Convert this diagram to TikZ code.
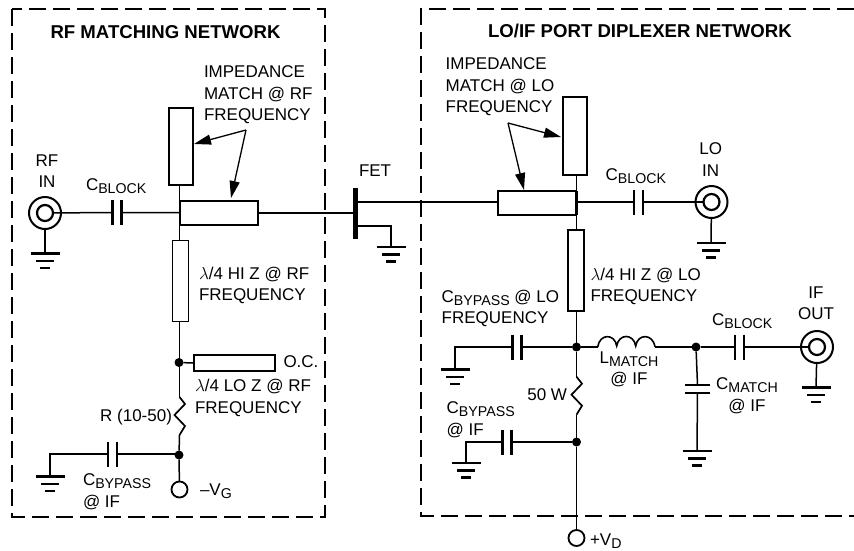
\documentclass[tikz,border=0pt]{standalone}
\usepackage{fontspec}
\setmainfont{Liberation Sans}
\usetikzlibrary{arrows.meta}
\newcommand\sbt[1]{\raisebox{-3pt}{\fontsize{14.2}{14}\selectfont #1}}
\tikzset{
  wire/.style={line width=1.5pt},
  lbl/.style={inner sep=0pt,outer sep=0pt,align=left,anchor=north west,font=\fontsize{17}{21.5}\selectfont},
  lblc/.style={lbl,align=center,anchor=north},
  lbls/.style={inner sep=0pt,outer sep=0pt,anchor=base west,font=\fontsize{17}{21.5}\selectfont},
  ttl/.style={inner sep=0pt,outer sep=0pt,anchor=base west,font=\fontsize{18.6}{22}\selectfont\bfseries},
  stub/.style={draw,line width=1.6pt,inner sep=0pt,outer sep=0pt},
  dot/.style={circle,fill=black,inner sep=0pt,outer sep=0pt,minimum size=9pt},
  port/.style={circle,draw,line width=1.8pt,inner sep=0pt,outer sep=0pt,minimum size=16pt,fill=white},
  coaxo/.style={circle,draw,line width=2pt,inner sep=0pt,outer sep=0pt,minimum size=32pt},
  coaxi/.style={circle,draw,line width=2.2pt,inner sep=0pt,outer sep=0pt,minimum size=16pt},
  bound/.style={line width=1.5pt,dash pattern=on 17pt off 7pt},
  callout/.style={line width=1.3pt,-{Triangle[length=17pt,width=10pt]}},
  hcap/.pic={
    \draw[line width=2.4pt] (-4.5,-12.5) -- (-4.5,12.5) (4.5,-12.5) -- (4.5,12.5);
    \coordinate (-w) at (-4.5,0); \coordinate (-e) at (4.5,0);
  },
  vcap/.pic={
    \draw[line width=2.4pt] (-12.5,-4) -- (12.5,-4) (-12.5,4) -- (12.5,4);
    \coordinate (-n) at (0,-4); \coordinate (-s) at (0,4);
  },
  gndsym/.pic={
    \draw[line width=2.2pt] (-14.5,0) -- (14.5,0) (-9,7.5) -- (9,7.5) (-5,14.5) -- (5,14.5);
    \coordinate (-t) at (0,0);
  },
  resist/.pic={
    \draw[line width=1.7pt,line join=miter] (0,0) -- (5.5,7) -- (-5,18) -- (5.5,29) -- (0,38);
    \coordinate (-t) at (0,0); \coordinate (-b) at (0,38);
  },
  coil/.pic={
    \draw[line width=1.6pt] (0,0) .. controls (2,-13.7) and (17,-13.7) .. (19,-1)
      .. controls (21,-13.7) and (36,-13.7) .. (38,-1)
      .. controls (40,-13.7) and (55,-13.7) .. (57.5,0);
    \coordinate (-w) at (0,0); \coordinate (-e) at (57.5,0);
  }
}
\begin{document}
\begin{tikzpicture}[x=1pt,y=-1pt]
\useasboundingbox (0,0) rectangle (854,550);
% boundaries
\draw[bound] (12,9) rectangle (325,517);
\draw[bound] (854,9) -- (421,9) -- (421,516) -- (854,516);
\node[ttl] (t1) at (50.5,38) {RF MATCHING NETWORK};
\node[ttl] (t2) at (488,37) {LO/IF PORT DIPLEXER NETWORK};

% ---- RF side
\node[coaxo] (rfo) at (45,213) {};
\node[coaxi] (rfi) at (45,213) {};
\pic (grf) at (45,253.5) {gndsym};
\pic (c1) at (117,212.5) {hcap};
\coordinate (j1) at (179.5,212.5);
\node[stub,minimum width=24pt,minimum height=77pt] (s1) at (181,146.5) {};
\node[stub,minimum width=78pt,minimum height=24pt] (s2) at (219,213) {};
\node[stub,minimum width=16pt,minimum height=81pt] (s3) at (180.5,281) {};
\node[dot] (d1) at (179,362.5) {};
\node[stub,minimum width=81pt,minimum height=16.5pt] (s4) at (234.5,363) {};
\pic (r1) at (179.5,397) {resist};
\node[dot] (d2) at (179,455) {};
\pic (c2) at (112.5,454) {hcap};
\coordinate (b1) at (50,454);
\pic (g2) at (50,476.5) {gndsym};
\node[port] (vg) at (179.5,489.5) {};

\draw[wire] (rfi) -- (c1-w) (c1-e) -- (j1);
\draw[wire] (rfo) -- (grf-t);
\draw[wire] (j1) -- (s2.west);
\draw[wire] (s1.south -| j1) -- (s3.north -| j1);
\draw[line width=2.6pt] (180,202) -- (180,224);
\draw[wire] (s3.south -| j1) -- (r1-t);
\draw[wire] (d1) -- (s4.west);
\draw[wire] (r1-b) -- (d2);
\draw[wire] (d2) -- (vg);
\draw[wire] (d2.west |- b1) -- (c2-e) (c2-w) -- (b1) -- (g2-t);

% ---- FET
\node[draw=none,fill=black,inner sep=0pt,outer sep=0pt,minimum width=5pt,minimum height=51pt] (fet) at (355.7,213.5) {};
\coordinate (fd) at (fet.east |- 0,202);
\coordinate (fs) at (fet.east |- 0,226);
\coordinate (fs2) at (391,226);
\pic (g3) at (391,247) {gndsym};
\node[stub,minimum width=78pt,minimum height=24pt] (s5) at (537,203) {};
\draw[wire] (s2.east) -- (s2.east -| fet.west);
\draw[wire] (fd) -- (s5.west |- fd);
\draw[wire] (fs) -- (fs2) -- (g3-t);

% ---- LO side
\coordinate (j2) at (576.5,202);
\node[stub,minimum width=24pt,minimum height=78pt] (s6) at (575,136) {};
\node[stub,minimum width=16pt,minimum height=81pt] (s7) at (576,270.5) {};
\node[coaxo] (loo) at (711.5,202) {};
\node[coaxi] (loi) at (711.5,202) {};
\pic (glo) at (711,243) {gndsym};
\pic (c3) at (638.5,202) {hcap};
\draw[wire] (j2) -- (c3-w) (c3-e) -- (loi);
\draw[wire] (loo) -- (glo-t);
\draw[line width=2.6pt] (576.5,191) -- (576.5,215);
\draw[wire] (s6.south -| j2) -- (s7.north -| j2);

\node[dot] (d3) at (576.5,347) {};
\node[dot] (d4) at (576.5,442) {};
\node[dot] (d5) at (696,347) {};
\node[port] (vd) at (576.5,538) {};
\pic (r2) at (576.5,376.7) {resist};
\draw[wire] (s7.south -| j2) -- (d3);
\draw[wire] (d3) -- (r2-t);
\draw[wire] (r2-b) -- (d4);
\draw[wire] (d4) -- (vd);

\pic (c4) at (517,347) {hcap};
\coordinate (b2) at (455,347);
\pic (g4) at (455,369.5) {gndsym};
\draw[wire] (d3) -- (c4-e) (c4-w) -- (b2) -- (g4-t);

\pic (c5) at (507,442) {hcap};
\coordinate (b3) at (466,442);
\pic (g5) at (466,463) {gndsym};
\draw[wire] (d4) -- (c5-e) (c5-w) -- (b3) -- (g5-t);

\pic (l1) at (597.7,347) {coil};
\draw[wire] (d3) -- (l1-w) (l1-e) -- (d5);

\pic (c6) at (739.5,347) {hcap};
\node[coaxo] (ifo) at (817,347) {};
\node[coaxi] (ifi) at (817,347) {};
\pic (g6) at (816,387.5) {gndsym};
\draw[wire] (d5) -- (c6-w) (c6-e) -- (ifi);
\draw[wire] (ifo) -- (g6-t);

\pic (c7) at (697.5,389) {vcap};
\pic (g7) at (697,451) {gndsym};
\draw[wire] (d5) -- (c7-n) (c7-s) -- (g7-t);

% ---- callouts
\coordinate (a1) at (246,130);
\coordinate (a1x) at (194,144);
\coordinate (a1y) at (231,198);
\draw[callout] (a1) -- (a1x);
\draw[callout] (a1) -- (a1y);
\coordinate (a2) at (508,123);
\coordinate (a2x) at (561,137);
\coordinate (a2y) at (524,190);
\draw[callout] (a2) -- (a2x);
\draw[callout] (a2) -- (a2y);

% ---- labels
\node[lbl] (n1) at (204,65.7) {IMPEDANCE\\MATCH @ RF\\FREQUENCY};
\node[lbl] (n2) at (445.7,57.7) {IMPEDANCE\\MATCH @ LO\\FREQUENCY};
\node[lblc] (n3) at (47,154.7) {RF\\IN};
\node[lblc] (n4) at (710.7,142.7) {LO\\IN};
\node[lblc] (n5) at (816,286.7) {IF\\OUT};
\node[lbls] (n6) at (86,190) {C\sbt{BLOCK}};
\node[lbls] (n7) at (605.7,180) {C\sbt{BLOCK}};
\node[lbls] (n8) at (712,325) {C\sbt{BLOCK}};
\node[lbl] (n9) at (199,266.7) {$\lambda$/4 HI Z @ RF\\FREQUENCY};
\node[lbl] (n10) at (590.5,267.7) {$\lambda$/4 HI Z @ LO\\FREQUENCY};
\node[lbl] (n11) at (441.7,289.7) {C\sbt{BYPASS} @ LO\\FREQUENCY};
\node[lbls] (n12) at (283.5,367.7) {O.C.};
\node[lbl] (n13) at (195,379.4) {$\lambda$/4 LO Z @ RF\\FREQUENCY};
\node[lbls,anchor=base east] (n14) at (172,421.7) {R (10-50)};
\node[lbl] (n15) at (83,473.7) {C\sbt{BYPASS}\\@ IF};
\node[lbls] (n16) at (200,495) {–V\sbt{G}};
\node[lblc] (n17) at (629,351.7) {L\sbt{MATCH}\\@ IF};
\node[lbls,anchor=base east] (n18) at (567,400) {50 W};
\node[lbl] (n19) at (446.7,401.7) {C\sbt{BYPASS}\\@ IF};
\node[lblc] (n20) at (747,377.7) {C\sbt{MATCH}\\@ IF};
\node[lbls] (n21) at (590,545) {+V\sbt{D}};
\node[lbls] (n22) at (359,176.7) {FET};
\end{tikzpicture}
\end{document}
